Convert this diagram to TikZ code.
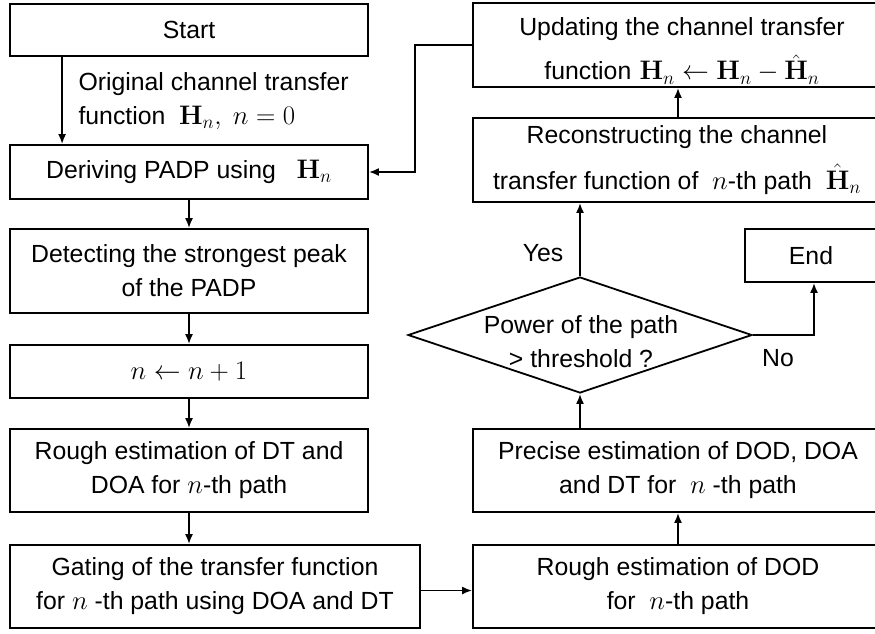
\documentclass[tikz,border=0pt]{standalone}
\usepackage{fix-cm}
\usepackage[no-math]{fontspec}
\setmainfont{Liberation Sans}
\usetikzlibrary{arrows.meta,shapes.geometric}
% formulas a little larger than the surrounding sans text
\DeclareMathSizes{24.8}{26.8}{19}{14}

\tikzset{
  every node/.style={font=\fontsize{24.8}{34}\selectfont},
  box/.style={draw, line width=1.8pt, align=center, inner sep=0pt},
  arr/.style={line width=1.8pt, -{Latex[length=10pt,width=8pt]}},
}

\begin{document}
\begin{tikzpicture}[x=1pt,y=-1pt]
\useasboundingbox (0,0) rectangle (875,633);

% left column
\node[box, minimum width=358pt, minimum height=52pt] (start)  at (189,30)    {Start};
\node[box, minimum width=358pt, minimum height=54pt] (derive) at (189,172)   {Deriving PADP using\ \ \ $\mathbf{H}_n$};
\node[box, minimum width=358pt, minimum height=84pt] (detect) at (189,271)   {Detecting the strongest peak\\of the PADP};
\node[box, minimum width=358pt, minimum height=53pt] (incr)   at (189,371.5) {$n \leftarrow n+1$};
\node[box, minimum width=358pt, minimum height=83pt] (roughdt) at (189,470.5) {Rough estimation of DT and\\DOA for $n$-th path};
\node[box, minimum width=410pt, minimum height=83pt] (gating) at (215,586.5) {Gating of the transfer function\\for $n$ -th path using DOA and DT};

% right column
\node[box, minimum width=410pt, minimum height=83pt] (roughdod) at (678,586.5) {Rough estimation of DOD\\for\ \ $n$-th path};
\node[box, minimum width=410pt, minimum height=83pt] (precise)  at (678,470.5) {Precise estimation of DOD, DOA\\and DT for\ \ $n$ -th path};
\node[draw, diamond, line width=1.8pt, inner sep=0pt, minimum width=344pt, minimum height=116pt] (dec) at (580,335) {};
\node[align=center] (dectext) at (581,342) {Power of the path\\> threshold ?};
\node[box, minimum width=132pt, minimum height=53pt] (endb)   at (811,255.5) {End};
\node[box, minimum width=410pt, minimum height=84pt] (recon)  at (678,160) {};
\node[align=center] (recontext) at (677,160) {Reconstructing the channel\\[12pt]transfer function of\ \ $n$-th path\ \ $\hat{\mathbf{H}}_n$};
\node[box, minimum width=410pt, minimum height=84pt] (update) at (678,45)  {};
\node[align=center] (updatetext) at (682,51) {Updating the channel transfer\\[10pt]function\,\,$\mathbf{H}_n \leftarrow \mathbf{H}_n - \hat{\mathbf{H}}_n$};

% labels
\node[anchor=west, align=left] (origlbl) at (75,101) {Original channel transfer\\function\ \ $\mathbf{H}_n,\ n=0$};
\node (yes) at (543,253) {Yes};
\node (no)  at (778,358) {No};

% connectors
\draw[arr] ([xshift=53pt]start.south west) -- ([xshift=53pt]derive.north west);
\draw[arr] (derive.south) -- (detect.north);
\draw[arr] (detect.south) -- (incr.north);
\draw[arr] (incr.south) -- (roughdt.north);
\draw[arr] (roughdt.south) -- (gating.north -| roughdt.south);
\draw[arr] ([yshift=-4pt]gating.east) -- ([yshift=-4pt]gating.east -| roughdod.west);
\draw[arr] (roughdod.north) -- (precise.south);
\draw[arr] (precise.north -| dec.south) -- (dec.south);
\draw[arr] (dec.north) -- (dec.north |- recon.south);
\draw[arr] (recon.north) -- (update.south);
\draw[arr] (dec.east) -| ([xshift=3pt]endb.south);
\draw[arr] (update.west) -- ++(-57,0) |- (derive.east);
\end{tikzpicture}
\end{document}
